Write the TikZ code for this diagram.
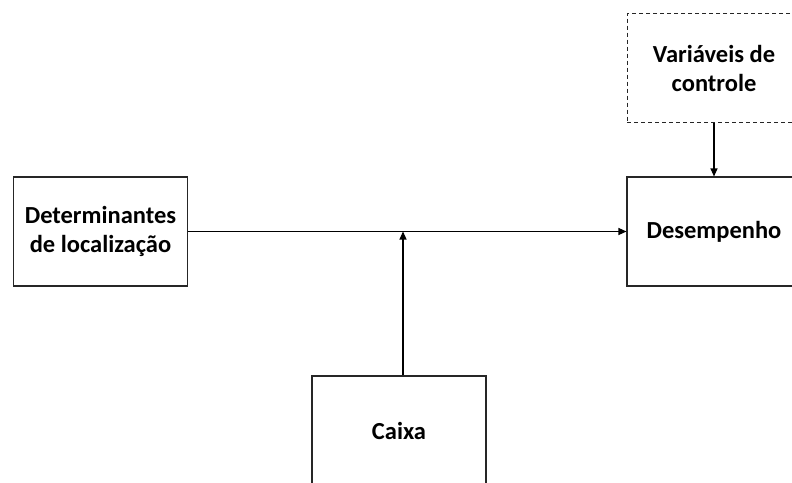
\documentclass[tikz,border=0pt]{standalone}
\usepackage{fontspec}
\setmainfont{Carlito}
\usetikzlibrary{arrows.meta}
\begin{document}
\begin{tikzpicture}[x=1pt,y=-1pt,
  box/.style={draw=black!85, line width=1.1pt, minimum width=174pt, minimum height=109pt, inner sep=0pt, align=center, font=\fontsize{24.5}{29}\selectfont\bfseries},
  dbox/.style={box, dashed, dash pattern=on 4pt off 3pt, line width=1pt},
  conn/.style={draw=black, line width=1.1pt, -{Triangle[length=8pt,width=7pt]}}]
\useasboundingbox (0,0) rectangle (792,482);
\fill[white] (0,0) rectangle (792,482);
\clip (0,0) rectangle (792,482);
\node[box] (det) at (100.5,231.5) {Determinantes\\de localização};
\node[box] (des) at (714,231.5) {Desempenho};
\node[dbox] (var) at (714,68) {Variáveis de\\controle};
\node[box] (cai) at (399,430.5) {Caixa};
\coordinate (j) at (403,231.5);
\draw[conn] (det.east) -- (des.west);
\draw[conn] (cai.north -| j) -- (j);
\draw[conn] (var.south) -- (des.north);
\end{tikzpicture}
\end{document}
